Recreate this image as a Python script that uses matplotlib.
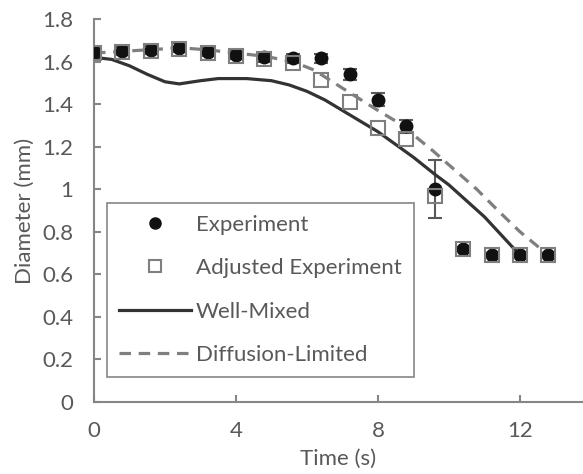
import numpy as np
import matplotlib
matplotlib.use("Agg")
import matplotlib.pyplot as plt

plt.rcParams['font.family'] = ['Lato', 'DejaVu Sans']

# experiment data
t_exp = [0, 0.8, 1.6, 2.4, 3.2, 4.0, 4.8, 5.6, 6.4, 7.2, 8.0, 8.8, 9.6, 10.4, 11.2, 12.0, 12.8]
d_exp = [1.645, 1.65, 1.655, 1.665, 1.645, 1.63, 1.62, 1.615, 1.615, 1.54, 1.42, 1.295, 1.0, 0.72, 0.69, 0.69, 0.69]
err_exp = [0.02, 0.02, 0.02, 0.02, 0.02, 0.02, 0.02, 0.02, 0.02, 0.025, 0.03, 0.03, 0.135, 0.01, 0.01, 0.01, 0.01]
d_adj = [1.64, 1.645, 1.65, 1.66, 1.64, 1.625, 1.61, 1.595, 1.515, 1.41, 1.29, 1.235, 0.97, 0.72, 0.69, 0.69, 0.69]

# models
t_wm = [0, 0.5, 1.0, 1.5, 2.0, 2.4, 3.0, 3.5, 4.3, 5.0, 5.5, 6.0, 6.5, 7.0, 8.0, 9.0, 9.6, 10.0, 11.0, 12.0]
d_wm = [1.62, 1.61, 1.58, 1.54, 1.505, 1.495, 1.51, 1.52, 1.52, 1.51, 1.49, 1.46, 1.42, 1.37, 1.27, 1.15, 1.07, 1.02, 0.87, 0.69]
t_dl = [0, 1.0, 2.0, 2.4, 3.2, 4.0, 4.8, 5.6, 6.2, 7.0, 8.0, 8.6, 9.55, 10.78, 11.44, 12.0, 12.8]
d_dl = [1.64, 1.65, 1.66, 1.665, 1.655, 1.64, 1.625, 1.6, 1.56, 1.475, 1.37, 1.31, 1.18, 1.0, 0.89, 0.8, 0.69]

grey = '#595959'
axcol = '#868686'
fs = 16

fig = plt.figure(figsize=(5.83, 4.74), dpi=100)
ax = fig.add_axes([94/583, 1-402/474, 489/583, 383/474])

ax.errorbar(t_exp, d_exp, yerr=err_exp, fmt='none', ecolor=grey, elinewidth=1.5, capsize=5, capthick=1.5, zorder=2)
ax.plot(t_wm, d_wm, '-', color='#333333', lw=2.3, label='Well-Mixed', zorder=3)
ax.plot(t_dl, d_dl, '--', color='#7f7f7f', lw=2.3, dashes=(3.6, 2.4), label='Diffusion-Limited', zorder=3)
ax.plot(t_exp, d_exp, 'o', color='#111111', ms=9, ls='none', label='Experiment', zorder=4)
ax.plot(t_exp, d_adj, 's', mfc='none', mec='#7f7f7f', mew=1.5, ms=10, ls='none', label='Adjusted Experiment', zorder=5)

ax.set_xlim(0, 489/35.5)
ax.set_ylim(0, 1.8)
ax.set_xticks([0, 4, 8, 12])
ax.set_yticks(np.arange(0, 1.81, 0.2))
ax.set_yticklabels(['0', '0.2', '0.4', '0.6', '0.8', '1', '1.2', '1.4', '1.6', '1.8'])
for s in ['top', 'right']:
    ax.spines[s].set_visible(False)
for s in ['left', 'bottom']:
    ax.spines[s].set_color(axcol)
    ax.spines[s].set_linewidth(1.5)
ax.tick_params(direction='in', length=5, width=1.5, color=axcol, labelcolor=grey, labelsize=fs)
ax.tick_params(axis='x', pad=14)
ax.tick_params(axis='y', pad=15)
ax.set_xlabel('Time (s)', color=grey, fontsize=fs, labelpad=5)
ax.set_ylabel('Diameter (mm)', color=grey, fontsize=fs, labelpad=5)

h, l = ax.get_legend_handles_labels()
order = [2, 3, 0, 1]
leg = ax.legend([h[i] for i in order], [l[i] for i in order], loc='lower left',
                bbox_to_anchor=(0.027, 0.065), handlelength=3.2, labelspacing=1.05,
                fontsize=fs, fancybox=False, edgecolor=axcol, framealpha=1,
                borderpad=0.55, handletextpad=0.25, borderaxespad=0)
leg.get_frame().set_linewidth(1.2)
for t in leg.get_texts():
    t.set_color(grey)
for lh in leg.legend_handles:
    if lh.get_marker() in ('o', 's'):
        lh.set_markersize(8)

fig.savefig('out.png', dpi=100)
